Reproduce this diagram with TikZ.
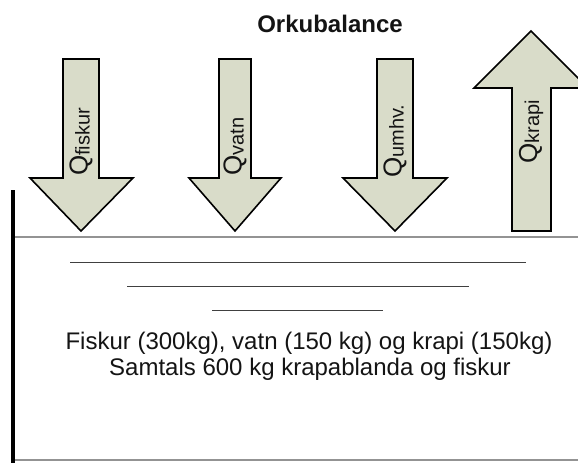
\documentclass[tikz,border=0pt]{standalone}
\usepackage{fontspec}
\setmainfont{Liberation Sans}
\definecolor{arrowfill}{RGB}{217,220,201}
\definecolor{txt}{RGB}{20,20,20}
\newcommand{\qlab}[1]{\fontsize{26}{26}\selectfont Q\raisebox{-2pt}{\fontsize{20}{20}\selectfont #1}}
\begin{document}
\begin{tikzpicture}[x=1pt,y=-1pt,
  arrowbody/.style={draw=black,line width=1.6pt,fill=arrowfill,line join=miter},
  arrowlabel/.style={rotate=90,anchor=west,inner sep=0pt,text=txt},
  grayline/.style={draw=gray!85,line width=1.4pt},
  thinline/.style={draw=black!75,line width=0.9pt},
  bodytext/.style={text=txt,font=\fontsize{24}{28}\selectfont,align=center,inner sep=0pt}]
\useasboundingbox (0,0) rectangle (578,463);
\fill[white] (0,0) rectangle (578,463);
\clip (0,0) rectangle (578,463);

% title
\node[font=\bfseries\fontsize{24}{24}\selectfont,text=txt] (title) at (330,24) {Orkubalance};

% down arrows
\draw[arrowbody] (63,59) -- (99,59) -- (99,178) -- (133,178) -- (81,231) -- (30,178) -- (63,178) -- cycle;
\draw[arrowbody] (219,59) -- (251,59) -- (251,178) -- (281,178) -- (235,231) -- (189,178) -- (219,178) -- cycle;
\draw[arrowbody] (377,59) -- (413,59) -- (413,178) -- (447,178) -- (395,231) -- (343,178) -- (377,178) -- cycle;
% up arrow
\draw[arrowbody] (512,231) -- (512,88) -- (474,88) -- (531,31) -- (588,88) -- (551,88) -- (551,231) -- cycle;

% labels
\node[arrowlabel] (qfiskur) at (81,176) {\qlab{fiskur}};
\node[arrowlabel] (qvatn) at (235,176) {\qlab{vatn}};
\node[arrowlabel] (qumhv) at (395,178) {\qlab{umhv.}};
\node[arrowlabel] (qkrapi) at (531,164) {\qlab{krapi}};

% container
\coordinate (tl) at (13,237);
\coordinate (tr) at (578,237);
\coordinate (bl) at (13,460);
\coordinate (br) at (578,460);
\draw[grayline] (tl) -- (tr);
\draw[grayline] (bl) -- (br);
\coordinate (vt) at (13,190);
\coordinate (vb) at (13,463);
\draw[line width=4pt,black] (vt) -- (vb);

% surface lines
\coordinate (l1a) at (70,262); \coordinate (l1b) at (526,262);
\coordinate (l2a) at (127,286); \coordinate (l2b) at (469,286);
\coordinate (l3a) at (212,310); \coordinate (l3b) at (383,310);
\draw[thinline] (l1a) -- (l1b);
\draw[thinline] (l2a) -- (l2b);
\draw[thinline] (l3a) -- (l3b);

% text
\node[bodytext] (t1) at (309,343) {Fiskur (300kg), vatn (150 kg) og krapi (150kg)};
\node[bodytext] (t2) at (310,369) {Samtals 600 kg krapablanda og fiskur};
\end{tikzpicture}
\end{document}
